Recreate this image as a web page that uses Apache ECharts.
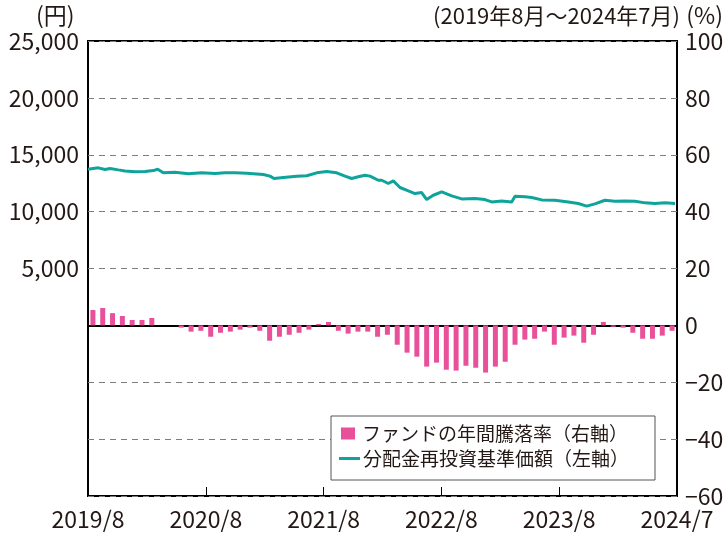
<!DOCTYPE html>
<html>
<head>
<meta charset="utf-8">
<script src="https://cdn.jsdelivr.net/npm/echarts@6/dist/echarts.min.js"></script>
<style>
html,body{margin:0;padding:0;background:#fff;}
#chart{width:728px;height:534px;}
</style>
</head>
<body>
<div id="chart"></div>
<script>
// ---- data ----
var barName = 'ファンドの年間騰落率（右軸）';
var lineName = '分配金再投資基準価額（左軸）';
var xTickLabels = ['2019/8', '2020/8', '2021/8', '2022/8', '2023/8', '2024/7'];
// annual return (%) per month, 2019/8 .. 2024/7
var annualReturn = [
  5.4, 6.1, 4.3, 3.3, 1.9, 1.9, 2.6, null, null, -0.8,
  -2.2, -1.9, -4.0, -2.6, -2.2, -1.5, -0.8, -1.9, -5.4, -4.0,
  -3.3, -2.6, -1.5, 0.5, 1.2, -1.9, -2.9, -2.2, -2.2, -4.0,
  -3.3, -6.8, -9.6, -11.0, -14.5, -13.1, -15.6, -15.9, -14.2, -14.9,
  -16.6, -14.5, -12.8, -6.8, -5.0, -4.7, -2.2, -6.8, -4.3, -3.6,
  -6.1, -3.3, 1.2, -0.5, -0.8, -2.6, -4.7, -4.7, -3.6, -1.9
];
// NAV (reinvested), position in months from 2019/8 start
var navMonth = [
  0, 1.05, 1.73, 2.24, 3.09, 3.77, 4.79, 5.81, 6.65, 7.10,
  7.67, 8.86, 10.22, 11.58, 12.94, 13.96, 14.97, 16.17, 17.86, 18.54,
  18.95, 19.89, 21.26, 22.28, 23.30, 24.32, 25.33, 26.18, 26.86, 27.53,
  28.22, 28.73, 29.57, 29.92, 30.59, 31.10, 31.78, 32.63, 33.31, 33.99,
  34.50, 35.17, 36.03, 37.05, 38.07, 39.42, 40.44, 41.12, 42.14, 43.16,
  43.50, 44.51, 45.20, 46.22, 47.57, 48.93, 49.94, 50.80, 51.64, 52.66,
  53.68, 54.70, 55.72, 56.74, 57.76, 58.78, 59.80
];
var navValue = [
  13730, 13850, 13700, 13790, 13670, 13580, 13500, 13520, 13610, 13730,
  13410, 13470, 13320, 13410, 13350, 13410, 13410, 13380, 13260, 13120,
  12910, 13000, 13120, 13150, 13410, 13530, 13410, 13120, 12910, 13060,
  13200, 13120, 12760, 12760, 12470, 12700, 12120, 11820, 11590, 11680,
  11060, 11440, 11730, 11380, 11120, 11150, 11060, 10850, 10940, 10850,
  11350, 11300, 11240, 11030, 11000, 10850, 10710, 10480, 10680, 11000,
  10910, 10940, 10910, 10770, 10710, 10770, 10710
];
// ---- build ----
var monthCats = [];
for (var i = 0; i < annualReturn.length; i++) {
  var y = 2019 + Math.floor((7 + i) / 12);
  var m = (7 + i) % 12 + 1;
  monthCats.push(y + '/' + m);
}
var navData = navMonth.map(function (mm, k) { return [mm, navValue[k]]; });

var FONT = '"Noto Sans CJK JP", "Noto Sans", sans-serif';
var TXT = '#231815';
var PINK = '#e9509a';
var TEAL = '#0ea49b';
var AXFS = 23;

var chart = echarts.init(document.getElementById('chart'), null, {renderer: 'canvas'});
chart.setOption({
  animation: false,
  backgroundColor: '#fff',
  textStyle: {fontFamily: FONT, color: TXT},
  grid: {left: 88, right: 51, top: 41, bottom: 38, show: true, borderColor: '#000', borderWidth: 2, backgroundColor: 'transparent', containLabel: false},
  xAxis: [
    {
      type: 'category', data: monthCats, boundaryGap: true,
      axisLabel: {show: false}, axisTick: {show: false},
      axisLine: {show: true, onZero: true, onZeroAxisIndex: 1, lineStyle: {color: '#000', width: 2}},
      splitLine: {show: false}
    },
    {
      type: 'value', min: 0, max: 60, interval: 12, position: 'bottom',
      axisLine: {show: false, onZero: false},
      axisTick: {show: true, inside: true, length: 9, lineStyle: {color: '#000', width: 1}},
      splitLine: {show: false},
      axisLabel: {
        show: true, margin: 12, fontSize: AXFS, fontFamily: FONT, color: TXT,
        formatter: function (v) { return xTickLabels[Math.round(v / 12)]; },
        showMinLabel: true, showMaxLabel: true
      }
    }
  ],
  yAxis: [
    {
      type: 'value', min: -15000, max: 25000, interval: 5000, position: 'left',
      axisLine: {show: false}, axisTick: {show: false},
      splitLine: {show: true, lineStyle: {color: '#7d7d7d', type: [6, 5], width: 1}},
      axisLabel: {
        margin: 9, fontSize: AXFS, fontFamily: FONT, color: TXT,
        formatter: function (v) { return v > 0 ? v.toLocaleString('en-US') : ''; }
      }
    },
    {
      type: 'value', min: -60, max: 100, interval: 20, position: 'right',
      axisLine: {show: false}, axisTick: {show: false},
      splitLine: {show: false},
      axisLabel: {
        margin: 8, fontSize: AXFS, fontFamily: FONT, color: TXT,
        formatter: function (v) { return v < 0 ? '\u2212' + Math.abs(v) : String(v); }
      }
    }
  ],
  legend: [
    {
      data: [{name: barName, icon: 'rect'}], left: 341, top: 424, orient: 'vertical', z: 100,
      itemWidth: 14, itemHeight: 12, itemGap: 0, padding: 0,
      textStyle: {fontFamily: FONT, fontSize: 19, color: TXT, padding: [0, 0, 0, 2]}
    },
    {
      data: [{name: lineName, icon: 'rect'}], left: 339, top: 449, orient: 'vertical', z: 100,
      itemWidth: 21, itemHeight: 3, itemGap: 0, padding: 0,
      textStyle: {fontFamily: FONT, fontSize: 19, color: TXT, padding: [0, 0, 0, -2]}
    }
  ],
  graphic: [
    {type: 'rect', z: 50, shape: {x: 331, y: 416, width: 324, height: 64}, style: {fill: '#fff', stroke: '#555', lineWidth: 1}},
    {type: 'text', left: 36, top: 4, style: {text: '(円)', font: '23px ' + FONT, fill: TXT}},
    {type: 'text', right: 48, top: 5, style: {text: '(2019年8月～2024年7月)', font: '22px ' + FONT, fill: TXT}},
    {type: 'text', right: 5, top: 4, style: {text: '(%)', font: '23px ' + FONT, fill: TXT}}
  ],
  series: [
    {
      name: barName, type: 'bar', xAxisIndex: 0, yAxisIndex: 1,
      data: annualReturn, barWidth: 5, itemStyle: {color: PINK}, z: 2
    },
    {
      name: lineName, type: 'line', xAxisIndex: 1, yAxisIndex: 0,
      data: navData, showSymbol: false, symbol: 'none',
      lineStyle: {color: TEAL, width: 3}, itemStyle: {color: TEAL}, z: 3
    }
  ]
});
</script>
</body>
</html>
